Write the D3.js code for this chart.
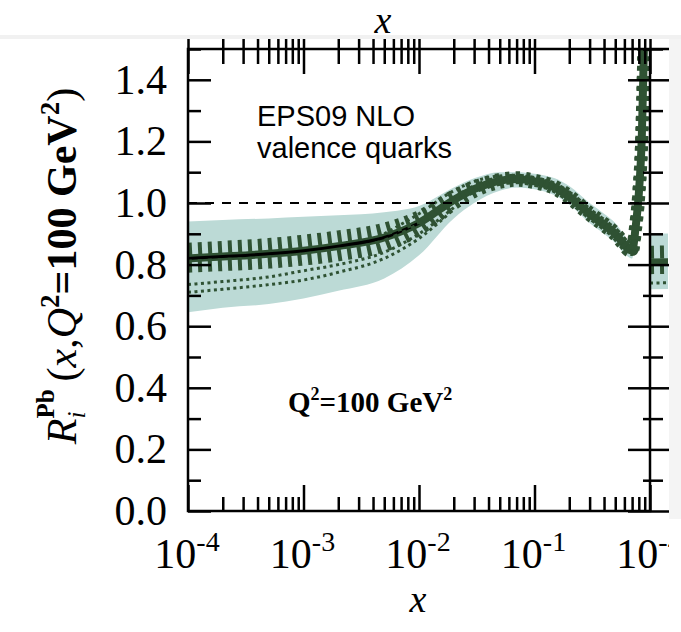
<!DOCTYPE html>
<html lang="en">
  <head>
    <meta charset="UTF-8" />
    <title>EPS09 NLO valence quarks</title>
    <script src="https://cdn.jsdelivr.net/npm/d3@7"></script>
    <style>
      body { margin: 0; background: #fff; }
      svg { display: block; }
      .serif { font-family: 'Liberation Serif', 'Times New Roman', serif; }
      .sans { font-family: 'Liberation Sans', Arial, sans-serif; }
    </style>
  </head>
  <body>
    <div id="chart"></div>
    <script>
      // x grid and curves
      const xVals = [1e-4, 2e-4, 5e-4, 1e-3, 2e-3, 5e-3, 1e-2, 2e-2, 3e-2, 5e-2, 7e-2, 0.1, 0.15, 0.2, 0.3, 0.4, 0.5, 0.6, 0.65, 0.7, 0.75, 0.8, 0.85, 0.88, 0.9]
      const central = [0.82, 0.826, 0.835, 0.845, 0.86, 0.888, 0.935, 1.01, 1.045, 1.072, 1.078, 1.07, 1.05, 1.02, 0.965, 0.93, 0.9, 0.865, 0.85, 0.845, 0.92, 1.03, 1.22, 1.45, 1.62]
      const bandHi = [0.94, 0.945, 0.95, 0.955, 0.96, 0.97, 0.99, 1.05, 1.08, 1.10, 1.10, 1.095, 1.08, 1.055, 1.0, 0.965, 0.935, 0.895, 0.875, 0.87, 0.945, 1.055, 1.25, 1.48, 1.65]
      const bandLo = [0.645, 0.66, 0.672, 0.69, 0.715, 0.755, 0.83, 0.95, 1.0, 1.04, 1.05, 1.045, 1.025, 0.995, 0.935, 0.9, 0.87, 0.835, 0.825, 0.82, 0.895, 1.005, 1.19, 1.42, 1.58]
      const errUp = [0.85, 0.856, 0.865, 0.876, 0.89, 0.915, 0.955, 1.022, 1.052, 1.077, 1.082, 1.074, 1.054, 1.024, 0.969, 0.934, 0.904, 0.869, 0.854, 0.849, 0.924, 1.034, 1.224, 1.454, 1.624]
      const errLow = [0.795, 0.8, 0.808, 0.818, 0.832, 0.862, 0.915, 0.998, 1.038, 1.067, 1.074, 1.066, 1.046, 1.016, 0.961, 0.926, 0.896, 0.861, 0.846, 0.841, 0.916, 1.026, 1.216, 1.446, 1.616]
      const dotA = [0.735, 0.745, 0.76, 0.78, 0.8, 0.84, 0.9, 0.985, null, null, null, null, null, null, null, null, null, null, null, null, null, null, null, null, null]
      const dotB = [0.71, 0.72, 0.735, 0.75, 0.775, 0.82, 0.885, 0.98, null, null, null, null, null, null, null, null, null, null, null, null, null, null, null, null, null]
      const dotC = [null, null, null, null, null, 0.9, 0.965, 1.04, 1.07, 1.088, 1.09, 1.08, 1.062, 1.035, null, null, null, null, null, null, null, null, null, null, null]

      // the neighbouring panel that shows at the right edge
      const nextX = [1e-4, 2e-4]
      const nextMid = [0.81, 0.812]
      const nextHi = [0.9, 0.902]
      const nextLo = [0.72, 0.722]
      const nextUp = [0.84, 0.842]
      const nextDown = [0.79, 0.792]
      const nextDot = [0.74, 0.742]

      const yMajor = [0, 0.2, 0.4, 0.6, 0.8, 1.0, 1.2, 1.4]
      const yMinor = [0.1, 0.3, 0.5, 0.7, 0.9, 1.1, 1.3, 1.5]
      const xMajor = [1e-4, 1e-3, 1e-2, 1e-1, 1]
      const xLabels = [1e-4, 1e-3, 1e-2, 1e-1]
      const xExp = ['-4', '-3', '-2', '-1']
      const xMinor = d3.range(-4, 0).flatMap(e => d3.range(2, 10).map(m => m * Math.pow(10, e)))

      const W = 681, H = 632
      const pL = 188, pR = 650, pT = 49, pB = 511
      const green = '#2f5233'
      const teal = '#bcdad6'

      const svg = d3.select('#chart').append('svg').attr('width', W).attr('height', H)
      const defs = svg.append('defs')
      defs.append('clipPath').attr('id', 'plot')
        .append('rect').attr('x', pL).attr('y', pT).attr('width', pR - pL).attr('height', pB - pT)
      defs.append('clipPath').attr('id', 'next')
        .append('rect').attr('x', pR).attr('y', pT).attr('width', 18).attr('height', pB - pT)
      defs.append('clipPath').attr('id', 'page')
        .append('rect').attr('x', 0).attr('y', 0).attr('width', 669).attr('height', H)

      const x = d3.scaleLog().domain([1e-4, 1]).range([pL, pR])
      const xNext = d3.scaleLog().domain([1e-4, 1]).range([pR, pR + (pR - pL)])
      const y = d3.scaleLinear().domain([0, 1.5]).range([pB, pT])

      const page = svg.append('g').attr('clip-path', 'url(#page)')

      // curves
      const plot = page.append('g').attr('clip-path', 'url(#plot)')
      const line = vals => d3.line()
        .defined((d, i) => vals[i] != null)
        .x(d => x(d))
        .y((d, i) => y(vals[i]))
        .curve(d3.curveMonotoneX)(xVals)

      plot.append('path')
        .attr('d', d3.area().x(d => x(d)).y0((d, i) => y(bandLo[i])).y1((d, i) => y(bandHi[i])).curve(d3.curveMonotoneX)(xVals))
        .attr('fill', teal)

      const solid = (vals, w, c, dash) => plot.append('path')
        .attr('d', line(vals)).attr('fill', 'none')
        .attr('stroke', c).attr('stroke-width', w)
        .attr('stroke-dasharray', dash || null)

      solid(dotA, 3, green, '3,3.5')
      solid(dotB, 3, green, '3,3.5')
      solid(dotC, 3, green, '3,3.5')
      solid(central, 8, green)
      solid(central.map((v, i) => (xVals[i] <= 1.2e-2 ? v : null)), 3, '#000')
      solid(errUp, 13, green, '4,6')
      solid(errLow, 13, green, '4,6')

      // dashed line at 1
      plot.append('line')
        .attr('x1', pL).attr('x2', pR).attr('y1', y(1)).attr('y2', y(1))
        .attr('stroke', '#000').attr('stroke-width', 2).attr('stroke-dasharray', '9,8')

      // neighbour panel
      const nb = page.append('g').attr('clip-path', 'url(#next)')
      const nLine = vals => d3.line().x(d => xNext(d)).y((d, i) => y(vals[i]))(nextX)
      nb.append('path')
        .attr('d', d3.area().x(d => xNext(d)).y0((d, i) => y(nextLo[i])).y1((d, i) => y(nextHi[i]))(nextX))
        .attr('fill', teal)
      nb.append('path').attr('d', nLine(nextDot)).attr('fill', 'none')
        .attr('stroke', green).attr('stroke-width', 3).attr('stroke-dasharray', '3,3.5')
      nb.append('path').attr('d', nLine(nextMid)).attr('fill', 'none')
        .attr('stroke', green).attr('stroke-width', 6)
      ;[nextUp, nextDown].forEach(v => nb.append('path').attr('d', nLine(v)).attr('fill', 'none')
        .attr('stroke', green).attr('stroke-width', 13).attr('stroke-dasharray', '4,6'))

      // ticks
      const tickAxis = (axis, scale, vals, size, tx, ty) => {
        const g = page.append('g')
          .attr('transform', `translate(${tx},${ty})`)
          .call(axis(scale).tickValues(vals).tickSize(size).tickFormat(''))
        g.select('.domain').remove()
        g.selectAll('line').attr('stroke', '#000').attr('stroke-width', 2.5)
        return g
      }
      // bottom (pointing up)
      tickAxis(d3.axisBottom, x, xMajor, -26, 0, pB)
      tickAxis(d3.axisBottom, x, xMinor, -14, 0, pB)
      // top (pointing down, and poking up past the frame)
      tickAxis(d3.axisTop, x, xMajor, -25, 0, pT)
      tickAxis(d3.axisTop, x, xMinor, -15, 0, pT)
      tickAxis(d3.axisTop, x, xMajor.concat(xMinor), 12, 0, pT)
      // left (pointing right)
      tickAxis(d3.axisRight, y, yMajor, 23, pL, 0)
      tickAxis(d3.axisRight, y, yMinor, 13, pL, 0)
      // right frame: inward and the neighbour's outward
      tickAxis(d3.axisLeft, y, yMajor, 22, pR, 0)
      tickAxis(d3.axisLeft, y, yMinor, 7, pR, 0)
      tickAxis(d3.axisRight, y, yMajor, 20, pR, 0)
      tickAxis(d3.axisRight, y, yMinor, 13, pR, 0)

      // frame
      page.append('rect')
        .attr('x', pL).attr('y', pT).attr('width', pR - pL).attr('height', pB - pT)
        .attr('fill', 'none').attr('stroke', '#000').attr('stroke-width', 2.5)
      page.append('line')
        .attr('x1', pR).attr('x2', W).attr('y1', pT).attr('y2', pT)
        .attr('stroke', '#000').attr('stroke-width', 2.5)

      // y tick labels
      const yl = page.append('g')
        .attr('transform', `translate(${pL},0)`)
        .call(d3.axisLeft(y).tickValues(yMajor).tickSize(0).tickPadding(21).tickFormat(d3.format('.1f')))
      yl.select('.domain').remove()
      yl.selectAll('text').attr('class', 'serif').attr('font-size', 42).attr('fill', '#000')

      // x tick labels (the last one belongs to the neighbouring panel)
      const xl = page.append('g').attr('class', 'serif')
        .selectAll('text').data(xLabels.map(v => x(v)).concat([xNext(1e-4)])).join('text')
        .attr('x', d => d - 1).attr('y', 568)
        .attr('text-anchor', 'middle').attr('font-size', 42)
      xl.append('tspan').text('10')
      xl.append('tspan').attr('font-size', 28).attr('dy', -17).text((d, i) => xExp[i] || '-4')

      // axis titles
      svg.append('text').attr('class', 'serif')
        .attr('x', 383).attr('y', 33).attr('text-anchor', 'middle')
        .attr('font-size', 38).attr('font-style', 'italic').text('x')
      svg.append('text').attr('class', 'serif')
        .attr('x', 418).attr('y', 612).attr('text-anchor', 'middle')
        .attr('font-size', 38).attr('font-style', 'italic').text('x')

      const yt = svg.append('text').attr('class', 'serif')
        .attr('transform', 'translate(76,266) rotate(-90)')
        .attr('text-anchor', 'middle').attr('font-size', 42)
      yt.append('tspan').attr('font-style', 'italic').text('R')
      yt.append('tspan').attr('font-size', 25).attr('font-style', 'italic').attr('dy', 9).text('i')
      yt.append('tspan').attr('font-size', 25).attr('font-weight', 'bold').attr('dx', -7).attr('dy', -31).text('Pb')
      yt.append('tspan').attr('dx', 8).attr('dy', 22).text('(')
      yt.append('tspan').attr('font-style', 'italic').text('x')
      yt.append('tspan').text(',')
      yt.append('tspan').attr('font-style', 'italic').text('Q')
      yt.append('tspan').attr('font-size', 27).attr('font-weight', 'bold').attr('dy', -17).text('2')
      yt.append('tspan').attr('font-weight', 'bold').attr('dy', 17).text('=100 GeV')
      yt.append('tspan').attr('font-size', 27).attr('font-weight', 'bold').attr('dy', -17).text('2')
      yt.append('tspan').attr('dy', 17).text(')')

      // annotations
      const ann = svg.append('g').attr('class', 'sans').attr('font-size', 29)
      ann.append('text').attr('x', 257).attr('y', 126).text('EPS09 NLO')
      ann.append('text').attr('x', 257).attr('y', 158).text('valence quarks')

      const q = svg.append('text').attr('class', 'serif')
        .attr('x', 288).attr('y', 412).attr('font-size', 29).attr('font-weight', 'bold')
      q.append('tspan').text('Q')
      q.append('tspan').attr('font-size', 18).attr('dy', -12).text('2')
      q.append('tspan').attr('dy', 12).text('=100 GeV')
      q.append('tspan').attr('font-size', 18).attr('dy', -12).text('2')

      // cropped-edge strips of the source picture
      svg.append('rect').attr('x', 0).attr('y', 35).attr('width', W).attr('height', 4).attr('fill', '#f1f1f1')
      svg.append('rect').attr('x', 669).attr('y', 39).attr('width', 12).attr('height', 480).attr('fill', '#f4f4f4')
    </script>
  </body>
</html>
